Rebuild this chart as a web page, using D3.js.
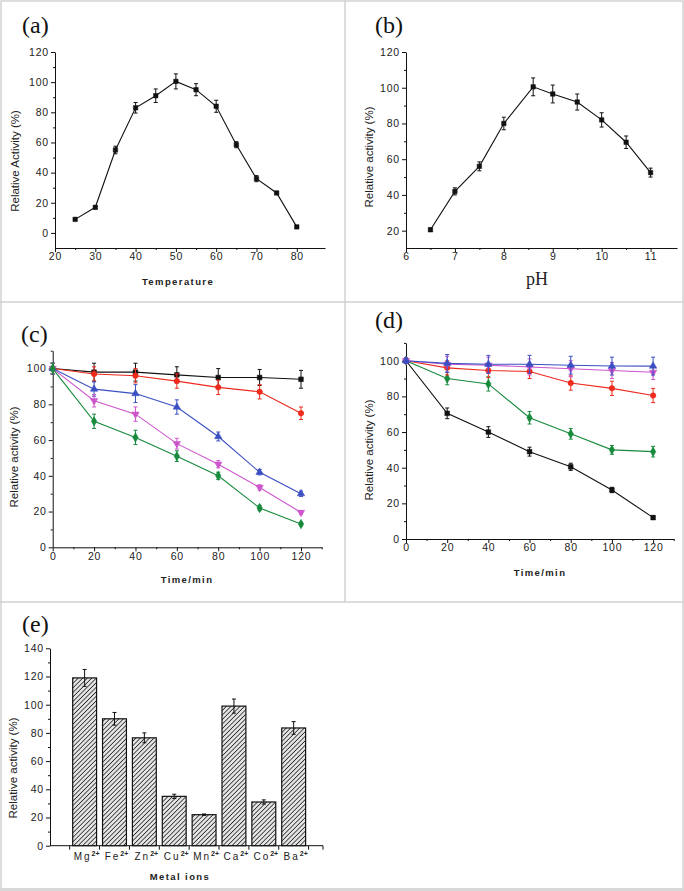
<!DOCTYPE html>
<html><head><meta charset="utf-8">
<script src="https://cdn.jsdelivr.net/npm/d3@7"></script>
<style>
body{margin:0;background:#fff;}
svg{display:block;}
</style></head>
<body>
<svg id="chart" width="684" height="891"></svg>
<script>
// ---------- DATA ----------
const tempX = [25,30,35,40,45,50,55,60,65,70,75,80];
const tempY = [9,17,55,83,91,100.5,95,84,58.5,36,26.5,4];
const tempErr = [0.8,1,2.5,3.5,4.5,5,4,4,2,2,1,0.8];
const tempXTicks = [20,30,40,50,60,70,80];
const tempYTicks = [0,20,40,60,80,100,120];

const pHX = [6.5,7,7.5,8,8.6,9,9.5,10,10.5,11];
const pHY = [20.5,42,56,80,100.5,96.5,92,82,69.5,52.5];
const pHErr = [1,2,2.5,3.5,5,5,4.5,4,3.5,2.5];
const pHXTicks = [6,7,8,9,10,11];
const pHYTicks = [20,40,60,80,100,120];

const timeX = [0,20,40,60,80,100,120];
const timeXTicks = [0,20,40,60,80,100,120];
const timeYTicks = [0,20,40,60,80,100];

const cBlack   = [100,98,98,96.5,95,95,94];
const cBlackErr= [3,5,5,4.5,5,4.5,5];
const cRed     = [100,97,96,93,89.5,87,75];
const cRedErr  = [3,4,4,4,4,4,3.5];
const cBlue    = [100,88.5,86,78.5,62,42,30];
const cBlueErr = [3,4,5,4,2.5,1.5,1.5];
const cMag     = [100,82,74.5,58,46.5,33.5,19.5];
const cMagErr  = [3,3.5,4,3,2,1.5,1];
const cGreen   = [100,70.5,61.5,51,40,22,13];
const cGreenErr= [3,4,4,3,2,1.5,1];

const dBlack   = [100,70.5,60,49,40.5,27.5,12];
const dBlackErr= [1.5,3,3,2.5,2,1.5,1];
const dGreen   = [100,90,87,68,59,50,49];
const dGreenErr= [1.5,3.5,4,3.5,3,2.5,3];
const dRed     = [100,96,94.5,94,87.5,84.5,80.5];
const dRedErr  = [1.5,4,4,4,4,4,4];
const dBlue    = [100,98.5,98,98,97.5,97,97];
const dBlueErr = [1.5,5,5,5,5,5,5];
const dMag     = [100,98,97.5,96.5,95.5,94.5,93.5];
const dMagErr  = [1.5,4.5,4.5,4.5,4.5,4.5,4];

const metals = ["Mg","Fe","Zn","Cu","Mn","Ca","Co","Ba"];
const metalVals = [119,90,76.5,35,22,99,31,83.5];
const metalErr = [6,4.5,3.5,1.5,0.5,5,1.5,4.5];
const metalYTicks = [0,20,40,60,80,100,120,140];

const COL = {black:"#111111", red:"#ee2a1c", blue:"#3b4fc2", mag:"#cc55cc", green:"#178a3c"};
const SANS = "'Liberation Sans', Arial, sans-serif";
const SERIF = "'Liberation Serif', 'Times New Roman', serif";

// ---------- SETUP ----------
const svg = d3.select("#chart");
svg.append("rect").attr("width",684).attr("height",891).attr("fill","#fff");

const defs = svg.append("defs");
const pat = defs.append("pattern").attr("id","hatch").attr("patternUnits","userSpaceOnUse")
  .attr("width",3.2).attr("height",3.2).attr("patternTransform","rotate(45)");
pat.append("rect").attr("width",3.2).attr("height",3.2).attr("fill","#e4e4e4");
pat.append("line").attr("x1",0).attr("y1",0).attr("x2",0).attr("y2",3.2)
  .attr("stroke","#2a2a2a").attr("stroke-width",1.6);

// frame lines
const frame = svg.append("g").attr("stroke","#d2d2d2").attr("fill","none");
frame.append("rect").attr("x",1).attr("y",1).attr("width",682).attr("height",888).attr("stroke-width",1.5);
frame.append("line").attr("x1",0).attr("x2",684).attr("y1",302).attr("y2",302).attr("stroke-width",1.5);
frame.append("line").attr("x1",0).attr("x2",684).attr("y1",602).attr("y2",602).attr("stroke-width",1.5);
frame.append("line").attr("x1",345).attr("x2",345).attr("y1",0).attr("y2",602).attr("stroke-width",1.5);
svg.append("rect").attr("x",0).attr("y",888).attr("width",684).attr("height",3).attr("fill","#d8d8d8");

function minorBetween(ticks){
  const out=[];
  for(let i=0;i<ticks.length-1;i++) out.push((ticks[i]+ticks[i+1])/2);
  return out;
}

function styleAxis(g){
  g.selectAll("path,line").attr("stroke","#111").attr("stroke-width",1);
  g.selectAll("text").attr("font-size",10.5).attr("fill","#222")
   .style("letter-spacing","0.8px").style("font-family",SANS);
}

function drawAxes(x,y,xTicks,yTicks,xMinor,yMinor,fmtX){
  const xr = x.range(), yr = y.range();
  const ya = svg.append("g").attr("transform",`translate(${xr[0]},0)`)
    .call(d3.axisLeft(y).tickValues(yTicks).tickSize(4).tickSizeOuter(0).tickPadding(2));
  styleAxis(ya);
  const yam = svg.append("g").attr("transform",`translate(${xr[0]},0)`)
    .call(d3.axisLeft(y).tickValues(yMinor).tickSize(2).tickFormat(""));
  yam.select(".domain").remove(); styleAxis(yam);
  const xa = svg.append("g").attr("transform",`translate(0,${yr[0]})`)
    .call(d3.axisBottom(x).tickValues(xTicks).tickSize(4).tickSizeOuter(0).tickPadding(1).tickFormat(fmtX||d3.format("d")));
  styleAxis(xa);
  const xam = svg.append("g").attr("transform",`translate(0,${yr[0]})`)
    .call(d3.axisBottom(x).tickValues(xMinor).tickSize(2).tickFormat(""));
  xam.select(".domain").remove(); styleAxis(xam);
}

function drawSeries(x,y,xs,ys,errs,color,shape,size,flip){
  const g = svg.append("g");
  const line = d3.line().x((d,i)=>x(xs[i])).y(d=>y(d));
  g.append("path").datum(ys).attr("d",line).attr("fill","none").attr("stroke",color).attr("stroke-width",1.1);
  ys.forEach((v,i)=>{
    const cx=x(xs[i]);
    const y1=y(v-errs[i]), y2=y(v+errs[i]);
    g.append("line").attr("x1",cx).attr("x2",cx).attr("y1",y1).attr("y2",y2).attr("stroke",color).attr("stroke-width",1);
    [y1,y2].forEach(yy=>g.append("line").attr("x1",cx-2).attr("x2",cx+2).attr("y1",yy).attr("y2",yy).attr("stroke",color).attr("stroke-width",1));
  });
  const sym = d3.symbol().type(shape).size(size);
  ys.forEach((v,i)=>{
    let tr = `translate(${x(xs[i])},${y(v)})`;
    if(flip) tr += " rotate(180)";
    g.append("path").attr("d",sym()).attr("transform",tr).attr("fill",color).attr("stroke",color).attr("stroke-width",0.5);
  });
}

function panelLabel(txt,xp,yp){
  svg.append("text").attr("x",xp).attr("y",yp).text(txt)
    .style("font-family",SERIF).attr("font-size",24).attr("fill","#111");
}
function yTitle(txt,xp,yp){
  svg.append("text").attr("transform",`translate(${xp},${yp}) rotate(-90)`).attr("text-anchor","middle")
    .style("font-family",SANS).attr("font-size",11.5).attr("fill","#222").text(txt);
}
function xTitle(txt,xp,yp){
  svg.append("text").attr("x",xp).attr("y",yp).attr("text-anchor","middle").attr("font-size",9.5)
    .style("font-family",SANS).attr("font-weight","bold").style("letter-spacing","1.4px").attr("fill","#222").text(txt);
}

// ---------- (a) ----------
{
  const x = d3.scaleLinear().domain([20,87]).range([55,325]);
  const y = d3.scaleLinear().domain([-10,120]).range([248,52]);
  drawAxes(x,y,tempXTicks,tempYTicks,minorBetween(tempXTicks),minorBetween(tempYTicks));
  drawSeries(x,y,tempX,tempY,tempErr,COL.black,d3.symbolSquare,20);
  panelLabel("(a)",22,33);
  yTitle("Relative Activity (%)",19,161);
  xTitle("Temperature",178,285);
}
// ---------- (b) ----------
{
  const x = d3.scaleLinear().domain([6,11.54]).range([406,677]);
  const y = d3.scaleLinear().domain([10.3,120]).range([248,52]);
  drawAxes(x,y,pHXTicks,pHYTicks,minorBetween(pHXTicks),minorBetween(pHYTicks));
  drawSeries(x,y,pHX,pHY,pHErr,COL.black,d3.symbolSquare,20);
  panelLabel("(b)",375,33);
  yTitle("Relative activity (%)",373,157);
  svg.append("text").attr("x",537).attr("y",285).attr("text-anchor","middle")
    .style("font-family",SERIF).attr("font-size",18).attr("fill","#222").text("pH");
}
// ---------- (c) ----------
{
  const x = d3.scaleLinear().domain([0,130]).range([52.7,321.7]);
  const y = d3.scaleLinear().domain([0,110]).range([547.3,350.7]);
  drawAxes(x,y,timeXTicks,timeYTicks,minorBetween(timeXTicks).concat([130]),minorBetween(timeYTicks).concat([110]));
  drawSeries(x,y,timeX,cBlack,cBlackErr,COL.black,d3.symbolSquare,22);
  drawSeries(x,y,timeX,cRed,cRedErr,COL.red,d3.symbolCircle,24);
  drawSeries(x,y,timeX,cBlue,cBlueErr,COL.blue,d3.symbolTriangle,24);
  drawSeries(x,y,timeX,cMag,cMagErr,COL.mag,d3.symbolTriangle,24,true);
  drawSeries(x,y,timeX,cGreen,cGreenErr,COL.green,d3.symbolDiamond,26);
  panelLabel("(c)",21,342);
  yTitle("Relative activity (%)",18,457);
  xTitle("Time/min",187,583);
}
// ---------- (d) ----------
{
  const x = d3.scaleLinear().domain([0,130]).range([406,673.7]);
  const y = d3.scaleLinear().domain([0,110]).range([539,342.9]);
  drawAxes(x,y,timeXTicks,timeYTicks,minorBetween(timeXTicks).concat([130]),minorBetween(timeYTicks).concat([110]));
  drawSeries(x,y,timeX,dBlack,dBlackErr,COL.black,d3.symbolSquare,22);
  drawSeries(x,y,timeX,dGreen,dGreenErr,COL.green,d3.symbolDiamond,26);
  drawSeries(x,y,timeX,dRed,dRedErr,COL.red,d3.symbolCircle,24);
  drawSeries(x,y,timeX,dMag,dMagErr,COL.mag,d3.symbolTriangle,24,true);
  drawSeries(x,y,timeX,dBlue,dBlueErr,COL.blue,d3.symbolTriangle,24);
  panelLabel("(d)",375,328);
  yTitle("Relative activity (%)",373,450);
  xTitle("Time/min",540,576);
}
// ---------- (e) ----------
{
  const x = d3.scaleBand().domain(metals).range([69.7,308.6]).paddingInner(0.2).paddingOuter(0.1);
  const y = d3.scaleLinear().domain([0,140]).range([845.7,648.3]);
  const ya = svg.append("g").attr("transform","translate(50,0)")
    .call(d3.axisLeft(y).tickValues(metalYTicks).tickSize(4).tickSizeOuter(0).tickPadding(2));
  styleAxis(ya);
  const yam = svg.append("g").attr("transform","translate(50,0)")
    .call(d3.axisLeft(y).tickValues(minorBetween(metalYTicks)).tickSize(2).tickFormat(""));
  yam.select(".domain").remove(); styleAxis(yam);
  svg.append("line").attr("x1",50).attr("x2",323).attr("y1",845.7).attr("y2",845.7).attr("stroke","#111");
  const bounds = metals.map(m=>x(m)-x.step()*0.1).concat([x(metals[metals.length-1])+x.bandwidth()+x.step()*0.1, 323]);
  bounds.forEach(b=>svg.append("line").attr("x1",b).attr("x2",b).attr("y1",845.7).attr("y2",849.7).attr("stroke","#111"));
  metals.forEach((m,i)=>{
    svg.append("rect").attr("x",x(m)).attr("width",x.bandwidth())
      .attr("y",y(metalVals[i])).attr("height",y(0)-y(metalVals[i]))
      .attr("fill","url(#hatch)").attr("stroke","#111").attr("stroke-width",1.2);
    const cx = x(m)+x.bandwidth()/2;
    const y1=y(metalVals[i]-metalErr[i]), y2=y(metalVals[i]+metalErr[i]);
    svg.append("line").attr("x1",cx).attr("x2",cx).attr("y1",y1).attr("y2",y2).attr("stroke","#111");
    [y1,y2].forEach(yy=>svg.append("line").attr("x1",cx-2).attr("x2",cx+2).attr("y1",yy).attr("y2",yy).attr("stroke","#111"));
    const t = svg.append("text").attr("x",cx+2).attr("y",860).attr("text-anchor","middle")
      .style("font-family",SANS).attr("font-size",10).style("letter-spacing","2px").attr("fill","#222");
    t.append("tspan").text(m);
    t.append("tspan").attr("dy",-4).attr("font-size",7).style("letter-spacing","0px").attr("font-weight","bold").text("2+");
  });
  panelLabel("(e)",22,632);
  yTitle("Relative activity (%)",17,768);
  xTitle("Metal ions",180,880);
}
</script>
</body></html>
